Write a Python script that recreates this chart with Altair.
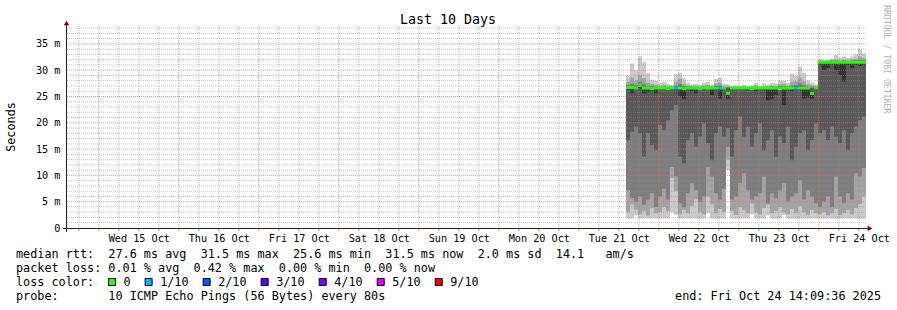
import altair as alt
import pandas as pd

MONO = "DejaVu Sans Mono"

# ---------------- data (one bin = 72 minutes, starting 7 days before the end) ----------------
first_bin = pd.Timestamp("2025-10-21 14:09:36")
bin_minutes = 72

p1 = [1.8, 1.8, 2.4, 1.8, 1.8, 1.8, 1.8, 1.8, 1.8, 1.8,
      1.8, 3.0, 2.5, 1.8, 1.8, 1.8, 1.8, 1.8, 1.8, 1.8,
      2.8, 1.8, 1.8, 1.8, 1.8, 11.0, 1.8, 1.8, 1.8, 1.8,
      1.8, 2.6, 1.8, 1.8, 1.8, 2.4, 1.8, 1.8, 1.8, 2.5,
      1.8, 1.8, 1.8, 1.8, 1.8, 1.8, 1.8, 1.8, 1.8, 1.8,
      1.8, 1.8, 1.8, 1.8, 1.8, 1.8, 1.8, 1.8, 1.8, 1.8]
p2 = [3.0, 4.5, 3.5, 2.6, 3.2, 2.4, 3.8, 2.8, 3.0, 4.0,
      3.2, 9.5, 7.0, 2.6, 3.4, 2.8, 4.2, 5.5, 3.0, 2.6,
      6.0, 4.5, 2.8, 3.6, 3.0, 13.0, 3.2, 2.5, 4.0, 3.4,
      2.8, 4.6, 3.0, 2.6, 3.8, 4.4, 2.8, 3.2, 4.0, 3.0,
      2.6, 3.6, 2.9, 4.2, 3.0, 2.5, 3.4, 2.8, 2.6, 3.0,
      2.4, 2.8, 3.6, 2.5, 2.9, 3.4, 2.6, 3.8, 4.6, 6.0]
p3 = [7.2, 5.7, 5.0, 6.0, 4.4, 5.4, 6.6, 4.0, 6.0, 7.5,
      5.4, 11.6, 9.8, 4.7, 4.0, 6.6, 8.5, 7.2, 5.0, 6.0,
      11.6, 9.8, 6.6, 5.4, 7.5, 15.4, 5.4, 6.0, 8.5, 10.4,
      7.2, 5.4, 6.0, 6.6, 9.8, 4.7, 6.6, 5.7, 7.2, 8.5,
      5.0, 6.0, 6.6, 9.1, 5.4, 7.2, 6.0, 4.7, 4.0, 5.0,
      6.0, 4.0, 9.8, 6.0, 4.7, 6.6, 5.4, 10.4, 9.8, 11.4]
p4 = [16.7, 18.3, 19.3, 18.0, 13.6, 18.0, 15.8, 14.8, 19.6, 18.6,
      20.5, 22.4, 23.4, 13.6, 12.3, 16.7, 18.0, 15.5, 17.4, 19.9,
      16.1, 12.9, 18.0, 19.3, 17.4, 19.0, 13.6, 18.6, 21.2, 17.4,
      19.3, 15.5, 18.0, 19.9, 14.8, 16.7, 18.6, 13.6, 17.4, 16.1,
      19.3, 12.9, 15.5, 18.0, 18.6, 14.8, 16.7, 19.9, 18.0, 18.6,
      16.7, 19.3, 17.4, 16.1, 18.6, 14.8, 18.0, 19.3, 20.5, 21.2]
p5 = [26.3, 25.6, 26.2, 26.6, 25.6, 25.8, 26.0, 25.6, 26.3, 26.3,
      26.2, 26.3, 26.2, 25.0, 24.5, 26.2, 26.0, 25.6, 26.3, 26.2,
      26.3, 25.3, 26.2, 24.6, 26.2, 24.6, 26.2, 26.3, 26.2, 26.3,
      26.2, 26.2, 26.0, 26.3, 26.2, 24.3, 24.5, 25.3, 26.2, 23.4,
      26.2, 26.0, 26.3, 26.2, 24.6, 24.8, 24.6, 26.2, 31.0, 30.0,
      30.4, 31.1, 30.0, 29.1, 27.8, 31.0, 30.4, 31.0, 30.8, 31.0]
median = [26.7, 26.7, 26.6, 27.1, 26.6, 26.6, 26.5, 26.6, 26.6, 26.6,
          26.5, 26.6, 26.6, 26.6, 26.5, 26.6, 26.6, 26.6, 26.5, 26.6,
          26.6, 26.6, 26.6, 26.6, 26.6, 25.6, 26.6, 26.6, 26.6, 26.6,
          26.6, 26.5, 26.6, 26.6, 26.6, 26.6, 26.6, 26.6, 26.5, 26.6,
          26.6, 26.6, 26.6, 26.6, 26.6, 26.6, 25.6, 26.6, 31.5, 31.5,
          31.5, 31.5, 31.5, 31.5, 31.5, 31.5, 31.5, 31.5, 31.5, 31.5]
p6 = [26.8, 26.8, 26.7, 27.2, 26.7, 26.7, 26.6, 26.7, 26.7, 26.7,
      26.6, 26.7, 26.7, 26.7, 26.6, 26.7, 26.7, 26.7, 26.6, 26.7,
      26.7, 26.7, 26.7, 26.7, 26.7, 25.9, 26.7, 26.7, 26.7, 26.7,
      26.7, 26.6, 26.7, 26.7, 26.7, 26.7, 26.7, 26.7, 26.6, 26.7,
      26.7, 26.7, 26.7, 26.7, 26.7, 26.7, 26.0, 26.7, 31.6, 31.6,
      31.6, 31.6, 31.6, 31.6, 31.6, 31.6, 31.6, 31.6, 31.6, 31.6]
p7 = [27.0, 27.0, 26.9, 27.4, 26.9, 26.8, 26.8, 26.8, 26.8, 26.8,
      26.7, 26.8, 26.9, 27.0, 26.8, 26.8, 26.8, 26.8, 26.7, 26.8,
      26.8, 26.8, 26.9, 26.9, 26.8, 26.6, 26.8, 26.8, 26.8, 26.8,
      26.8, 26.7, 26.8, 26.8, 26.8, 26.8, 26.8, 26.8, 26.7, 26.8,
      26.8, 26.9, 27.0, 27.1, 26.9, 26.8, 26.6, 26.8, 31.7, 31.7,
      31.7, 31.7, 31.7, 31.7, 31.7, 31.7, 31.7, 31.8, 31.8, 31.8]
p8 = [27.2, 27.4, 27.2, 27.8, 27.4, 27.0, 27.0, 26.9, 26.8, 26.9,
      26.8, 26.8, 27.1, 27.4, 27.0, 26.9, 26.8, 26.8, 26.8, 26.9,
      26.9, 26.8, 27.0, 27.1, 26.8, 26.8, 26.8, 26.8, 26.8, 26.8,
      26.8, 26.8, 26.9, 26.8, 26.8, 26.8, 26.9, 26.8, 27.0, 27.0,
      26.9, 27.1, 27.2, 27.5, 27.2, 26.9, 26.8, 26.8, 31.8, 31.7,
      31.7, 31.8, 31.8, 31.7, 31.8, 31.7, 31.8, 31.9, 32.0, 31.9]
p9 = [27.8, 28.6, 28.0, 29.1, 28.5, 27.6, 27.4, 27.2, 27.0, 27.2,
      27.0, 26.9, 27.8, 28.4, 27.4, 27.1, 27.0, 27.0, 26.9, 27.1,
      27.2, 27.0, 27.5, 27.6, 27.0, 26.9, 26.8, 26.9, 26.8, 26.9,
      26.8, 26.9, 27.1, 26.8, 27.0, 26.9, 27.1, 27.0, 27.3, 27.4,
      27.1, 27.8, 27.9, 28.6, 27.9, 27.3, 27.1, 27.0, 31.9, 31.8,
      31.8, 31.9, 32.0, 31.9, 32.0, 31.9, 32.1, 32.2, 32.6, 32.3]
p10 = [29.0, 31.3, 30.0, 32.6, 31.5, 29.5, 28.2, 28.0, 27.6, 27.8,
       27.4, 27.2, 29.3, 29.5, 28.5, 27.6, 27.3, 27.4, 27.2, 27.6,
       27.8, 27.3, 28.4, 28.6, 27.4, 27.3, 27.0, 27.1, 27.0, 27.2,
       27.0, 27.1, 27.6, 27.0, 27.5, 27.3, 27.6, 27.5, 27.9, 28.0,
       27.6, 29.3, 29.0, 30.7, 29.5, 28.0, 27.6, 27.3, 32.0, 31.9,
       32.0, 32.2, 32.9, 32.4, 32.6, 32.3, 32.6, 33.0, 34.0, 33.2]
loss = ["0"] * 12 + ["1/10"] + ["0"] * 10 + ["1/10"] + ["0"] * 18 + ["1/10"] + ["0"] * 17

loss_labels = ["0", "1/10", "2/10", "3/10", "4/10", "5/10", "9/10"]
loss_colors = ["#26ff00", "#00b8ff", "#0059ff", "#5e00ff", "#7e00ff", "#dd00ff", "#ff0000"]
smoke_colors = ["#cacaca", "#a4a4a4", "#7e7e7e", "#585858", "#323232"]

y_ticks = [0, 5, 10, 15, 20, 25, 30, 35]
day_labels_at = pd.date_range("2025-10-15 12:00", "2025-10-24 12:00", freq="D")

legend_rows = [
    "median rtt:  27.6 ms avg  31.5 ms max  25.6 ms min  31.5 ms now  2.0 ms sd  14.1   am/s",
    "packet loss: 0.01 % avg  0.42 % max  0.00 % min  0.00 % now",
    "loss color:",
    "probe:       10 ICMP Echo Pings (56 Bytes) every 80s",
]
end_text = "end: Fri Oct 24 14:09:36 2025"

# ---------------- helpers ----------------
def iso(t):
    return pd.Timestamp(t).strftime("%Y-%m-%dT%H:%M:%SZ")

def dt(t):
    t = pd.Timestamp(t)
    return alt.DateTime(year=t.year, month=t.month, date=t.day, hours=t.hour,
                        minutes=t.minute, seconds=t.second, utc=True)

def keep_spaces(s):
    return s.replace(" ", "\u00a0")

n = len(median)
starts = [first_bin + pd.Timedelta(minutes=bin_minutes * k) for k in range(n)]
df = pd.DataFrame({
    "t": [iso(t) for t in starts],
    "t2": [iso(t + pd.Timedelta(minutes=bin_minutes)) for t in starts],
    "p1": p1, "p2": p2, "p3": p3, "p4": p4, "p5": p5,
    "p6": p6, "p7": p7, "p8": p8, "p9": p9, "p10": p10,
    "med": median, "loss": loss,
})

LEFT, TOP, W, H = 66, 26, 800, 202
xscale = alt.Scale(type="utc", domain=[dt("2025-10-14 14:09:36"), dt("2025-10-24 14:09:36")])
yscale = alt.Scale(domain=[0, 38.4], nice=False, zero=False)

X_AX = alt.Axis(
    values=[dt(t) for t in day_labels_at],
    labelExpr="utcFormat(datum.value, '%a %d %b')",
    ticks=False, domain=False, grid=False, title=None, labelFont=MONO,
    labelFontSize=10.2, labelColor="black", labelPadding=10, labelBaseline="middle",
    labelOverlap=False, labelBound=False, labelFlush=False, labelAngle=0)
Y_AX = alt.Axis(
    values=y_ticks, labelExpr="datum.value == 0 ? '0' : datum.value + ' m'",
    ticks=False, domain=False, grid=False, title=None, labelFont=MONO,
    labelFontSize=10.2, labelColor="black", labelPadding=6, labelOverlap=False,
    labelBound=False, labelFlush=False)


def X(field):
    return alt.X(field, scale=xscale, axis=X_AX)


def Y(field):
    return alt.Y(field, scale=yscale, axis=Y_AX)


layers = []

# smoke bands (outer band first, inner darker bands on top)
for i in range(5):
    lo, hi = f"p{i + 1}", f"p{10 - i}"
    layers.append(alt.Chart(df).mark_rect(color=smoke_colors[i], strokeWidth=0).encode(
        x=X("t:T"), x2="t2:T", y=Y(f"{lo}:Q"), y2=f"{hi}:Q"))

# grid
hmin = pd.DataFrame({"v": [v for v in range(1, 39) if v % 5]})
hmaj = pd.DataFrame({"v": y_ticks[1:]})
vmaj_t = pd.date_range("2025-10-15", "2025-10-24", freq="D")
vmin_t = [t for t in pd.date_range("2025-10-14 18:00", "2025-10-24 12:00", freq="6h") if t.hour != 0]
vmaj = pd.DataFrame({"t": [iso(t) for t in vmaj_t]})
vmin = pd.DataFrame({"t": [iso(t) for t in vmin_t]})

GRID = dict(stroke="#8f8f8f", strokeOpacity=0.55, strokeWidth=1, strokeDash=[1, 1])
MGRID = dict(stroke="#f66262", strokeOpacity=0.7, strokeWidth=1, strokeDash=[1, 1])

layers.append(alt.Chart(hmin).mark_rule(**GRID).encode(y=Y("v:Q")))
layers.append(alt.Chart(vmin).mark_rule(**GRID).encode(x=X("t:T")))
layers.append(alt.Chart(hmaj).mark_rule(**MGRID).encode(y=Y("v:Q")))
layers.append(alt.Chart(vmaj).mark_rule(**MGRID).encode(x=X("t:T")))

# median line coloured by loss
layers.append(alt.Chart(df).mark_rule(strokeWidth=3, strokeCap="butt").encode(
    x=X("t:T"), x2="t2:T", y=Y("med:Q"),
    color=alt.Color("loss:N", scale=alt.Scale(domain=loss_labels, range=loss_colors), legend=None)))

# small ticks below the time axis
layers.append(alt.Chart(vmin).mark_rule(stroke="#8f8f8f", strokeWidth=1).encode(
    x=X("t:T"), y=alt.value(H + 0.5), y2=alt.value(H + 3)))
layers.append(alt.Chart(vmaj).mark_rule(stroke="#f66262", strokeWidth=1).encode(
    x=X("t:T"), y=alt.value(H + 0.5), y2=alt.value(H + 3)))

one = pd.DataFrame({"a": [0]})
AXIS_COL = "#212020"
ARROW_COL = "#7f0000"
# axis lines and arrows
layers.append(alt.Chart(one).mark_rule(stroke=AXIS_COL, strokeWidth=1).encode(
    x=alt.value(-3), x2=alt.value(804), y=alt.value(H + 0.5)))
layers.append(alt.Chart(one).mark_rule(stroke=AXIS_COL, strokeWidth=1).encode(
    x=alt.value(0.5), y=alt.value(H + 4), y2=alt.value(-2)))
layers.append(alt.Chart(one).mark_point(shape="triangle-right", filled=True, fill=ARROW_COL,
                                        size=30, opacity=1).encode(x=alt.value(804), y=alt.value(H + 0.5)))
layers.append(alt.Chart(one).mark_point(shape="triangle-up", filled=True, fill=ARROW_COL,
                                        size=30, opacity=1).encode(x=alt.value(0.5), y=alt.value(-3)))


def txt(s, x, y, size=11.8, align="left", color="black", font=MONO, angle=0, baseline="middle"):
    return alt.Chart(one).mark_text(text=keep_spaces(s), font=font, fontSize=size, align=align,
                                    baseline=baseline, color=color, angle=angle).encode(
        x=alt.value(x - LEFT), y=alt.value(y - TOP))


layers.append(txt("Last 10 Days", 448, 20, size=13.3, align="center"))
layers.append(txt("Seconds", 11, 127, size=11.8, align="center", angle=270))
layers.append(txt("RRDTOOL / TOBI OETIKER", 886, 5, size=8.2, color="#b0b0b0", angle=90))

row_y = [254.3, 268.3, 282.3, 296.0]
for s, yy in zip(legend_rows, row_y):
    layers.append(txt(s, 16, yy))
layers.append(txt(end_text, 881, row_y[3], align="right"))

# loss colour legend (flow layout like rrdtool)
CH = 7.13
bx = 108.5
for lab, col in zip(loss_labels, loss_colors):
    layers.append(alt.Chart(one).mark_rect(fill=col, stroke="black", strokeWidth=1).encode(
        x=alt.value(bx - LEFT), x2=alt.value(bx - LEFT + 7),
        y=alt.value(278.5 - TOP), y2=alt.value(285.5 - TOP)))
    lx = bx + 15
    layers.append(txt(lab, lx, row_y[2]))
    bx = lx + len(lab) * CH + 14.5

chart = alt.layer(*layers).properties(
    width=W, height=H, autosize=alt.AutoSizeParams(type="none"),
    padding={"left": LEFT, "top": TOP, "right": 897 - LEFT - W, "bottom": 310 - TOP - H},
    background="white",
).configure_view(strokeWidth=0)

chart.save("out.html", embed_options={"renderer": "svg", "actions": False})
